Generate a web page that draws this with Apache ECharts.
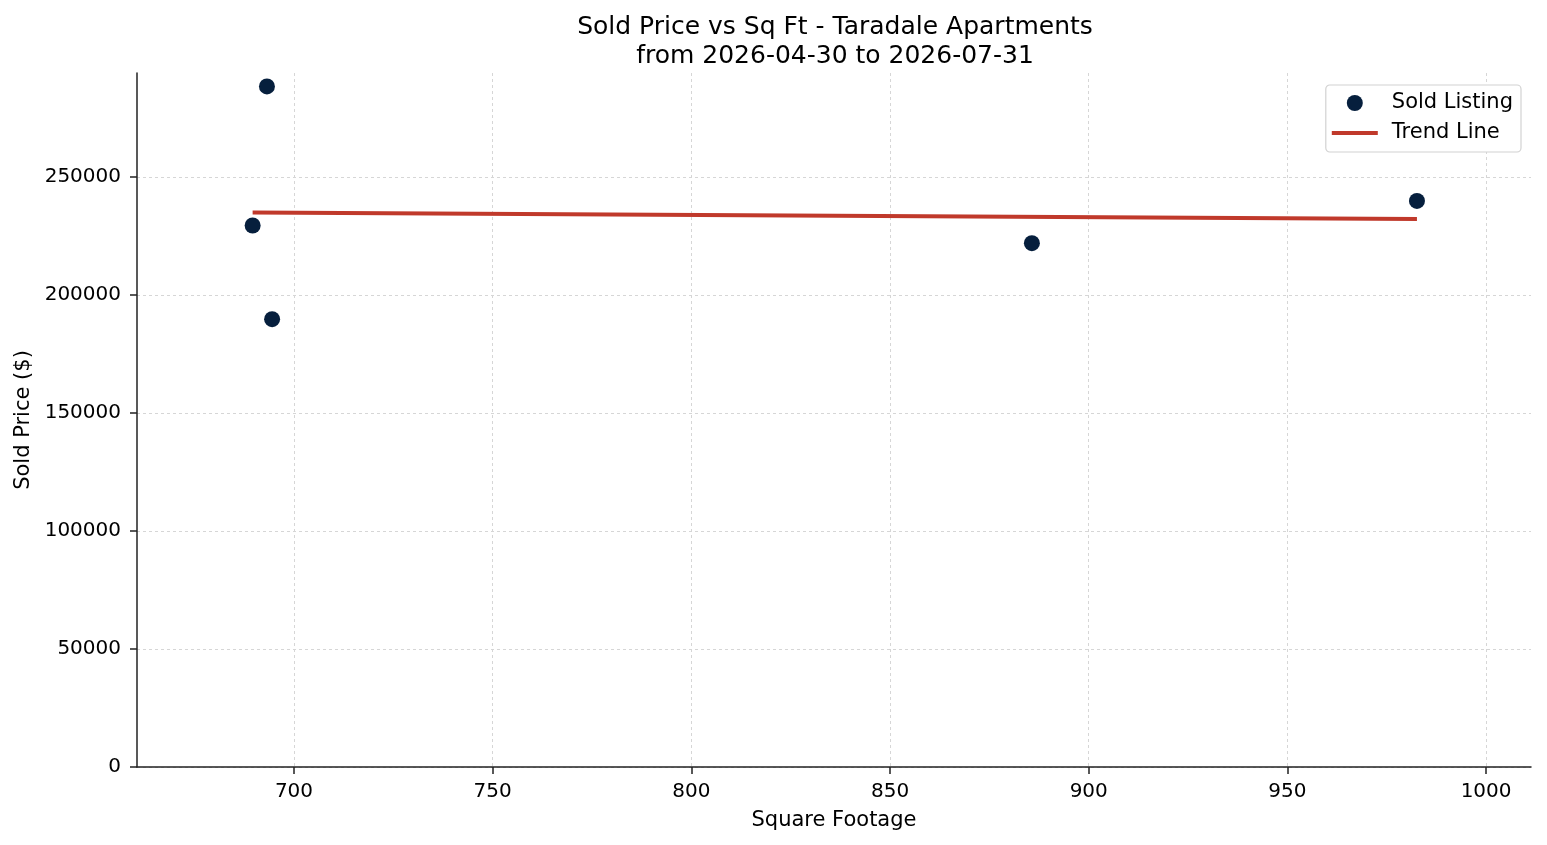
<!DOCTYPE html>
<html>
<head>
<meta charset="utf-8">
<script src="https://cdn.jsdelivr.net/npm/echarts@6/dist/echarts.min.js"></script>
<style>html,body{margin:0;padding:0;background:#fff;}#chart{width:1547px;height:845px;}</style>
</head>
<body>
<div id="chart"></div>
<script>
// Data
const sqft = [689.6, 693.2, 694.5, 885.7, 982.6];
const soldPrice = [229400, 288300, 189700, 221900, 239800];
const trendSqft = [689.6, 982.6];
const trendPrice = [234900, 232200];
const xTicks = [700, 750, 800, 850, 900, 950, 1000];
const yTicks = [0, 50000, 100000, 150000, 200000, 250000];
const titleLines = ['Sold Price vs Sq Ft - Taradale Apartments', 'from 2026-04-30 to 2026-07-31'];

const FONT = 'DejaVu Sans';
const chart = echarts.init(document.getElementById('chart'), null, {renderer: 'canvas'});
const axisCommon = {
  axisLine: {show: true, lineStyle: {color: '#222', width: 1.5}},
  axisTick: {show: true, length: 7, lineStyle: {color: '#222', width: 1.5}},
  splitLine: {show: true, lineStyle: {color: '#d6d6d6', width: 1, type: [3, 3]}},
  nameLocation: 'middle',
  nameTextStyle: {fontFamily: FONT, fontSize: 21, color: '#000'}
};
chart.setOption({
  animation: false,
  backgroundColor: '#fff',
  title: {
    text: titleLines.join('\n'),
    left: 830, top: 8, textAlign: 'center',
    textStyle: {fontFamily: FONT, fontSize: 25, fontWeight: 'normal', color: '#000', lineHeight: 29}
  },
  grid: {left: 137, right: 16, top: 73, bottom: 78, containLabel: false, outerBoundsMode: 'none'},
  legend: {
    right: 26, top: 85, orient: 'vertical',
    itemWidth: 46, itemHeight: 16, itemGap: 9,
    padding: [7.5, 8, 8.5, 6],
    borderColor: '#d2d2d2', borderWidth: 1.2, borderRadius: 4, backgroundColor: '#fff',
    textStyle: {fontFamily: FONT, fontSize: 21, color: '#000', padding: [0, 0, 0, 9]},
    data: [
      {name: 'Sold Listing', icon: 'circle', itemStyle: {color: '#061f3d', borderWidth: 0}},
      {name: 'Trend Line', icon: 'path://M0,0H46V4H0Z', itemStyle: {color: '#c0392b', borderWidth: 0}}
    ]
  },
  xAxis: Object.assign({}, axisCommon, {
    type: 'value', min: 660.5, max: 1011.3,
    name: 'Square Footage', nameGap: 43,
    axisTick: Object.assign({}, axisCommon.axisTick, {customValues: xTicks}),
    axisLabel: {customValues: xTicks, fontFamily: FONT, fontSize: 20, color: '#000', margin: 15, formatter: v => String(v)}
  }),
  yAxis: Object.assign({}, axisCommon, {
    type: 'value', min: 0, max: 294000,
    name: 'Sold Price ($)', nameGap: 100,
    axisTick: Object.assign({}, axisCommon.axisTick, {customValues: yTicks}),
    axisLabel: {customValues: yTicks, fontFamily: FONT, fontSize: 20, color: '#000', margin: 16, formatter: v => String(v)}
  }),
  series: [
    {
      name: 'Sold Listing', type: 'scatter', symbol: 'circle', symbolSize: 16,
      itemStyle: {color: '#061f3d', opacity: 1},
      data: sqft.map((x, i) => [x, soldPrice[i]]),
      z: 3
    },
    {
      name: 'Trend Line', type: 'line', showSymbol: false, symbol: 'none',
      lineStyle: {color: '#c0392b', width: 4},
      itemStyle: {color: '#c0392b'},
      data: trendSqft.map((x, i) => [x, trendPrice[i]]),
      z: 2
    }
  ]
});
</script>
</body>
</html>
